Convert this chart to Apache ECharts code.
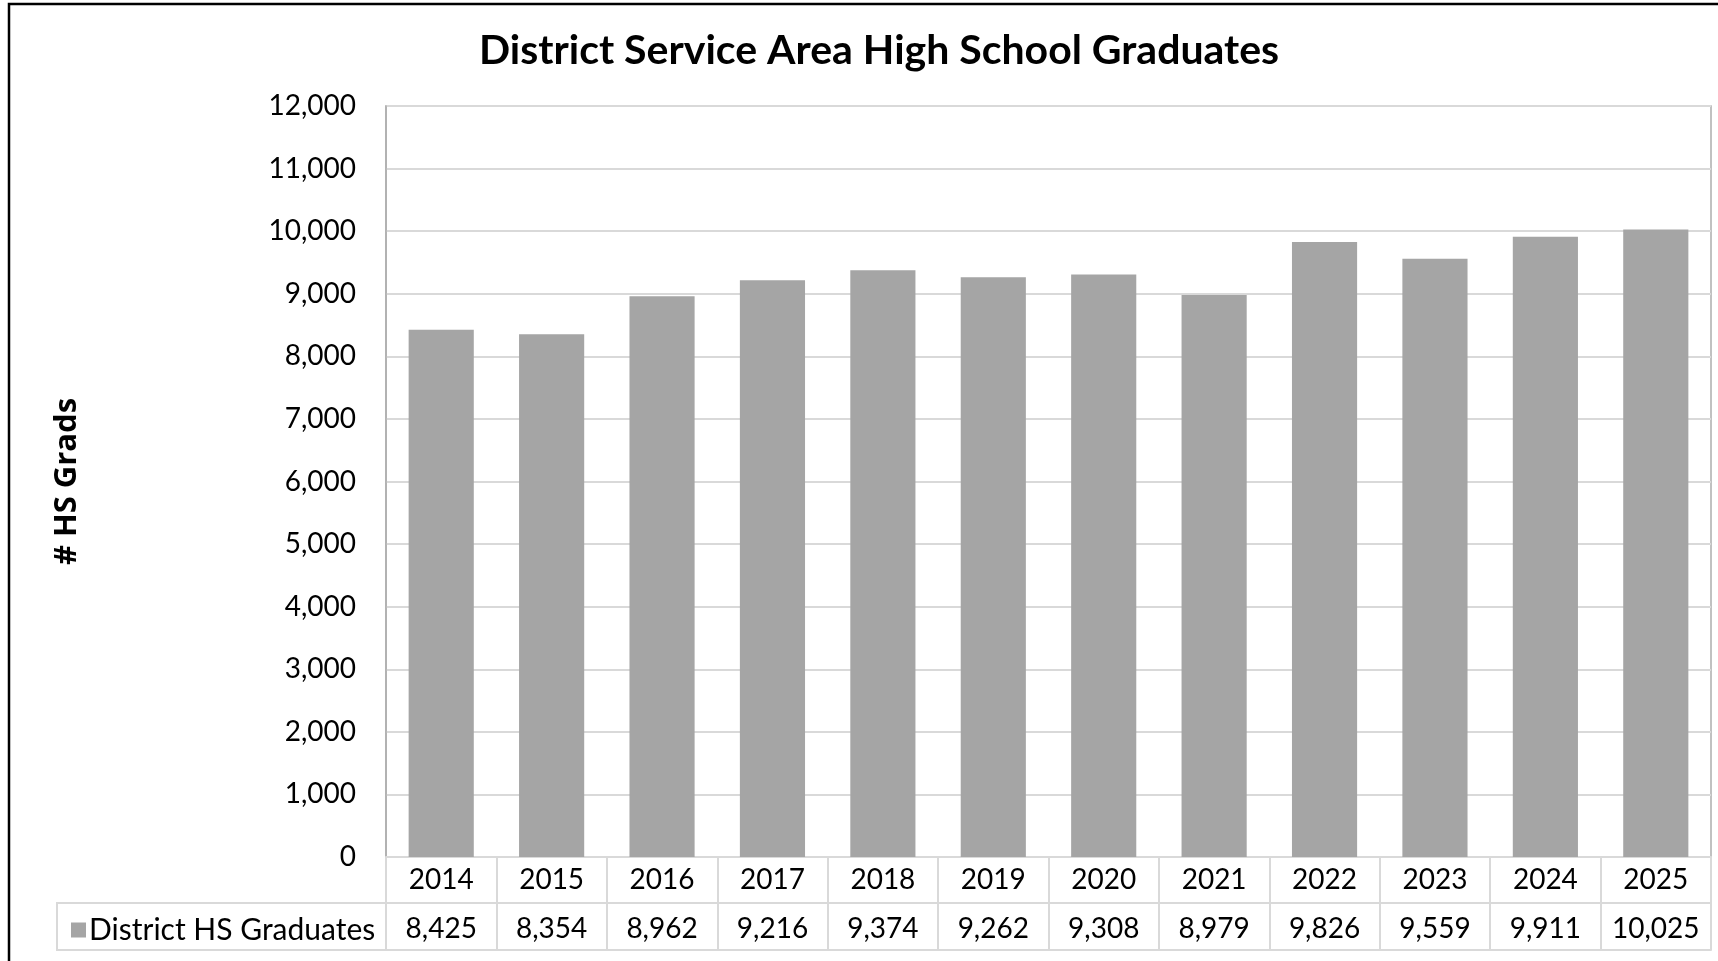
<!DOCTYPE html>
<html>
<head>
<meta charset="utf-8">
<script src="https://cdn.jsdelivr.net/npm/echarts@6/dist/echarts.min.js"></script>
<style>
html,body{margin:0;padding:0;background:#fff;}
#chart{width:1718px;height:961px;}
</style>
</head>
<body>
<div id="chart"></div>
<script>
const years = ['2014','2015','2016','2017','2018','2019','2020','2021','2022','2023','2024','2025'];
const grads = [8425, 8354, 8962, 9216, 9374, 9262, 9308, 8979, 9826, 9559, 9911, 10025];
const seriesName = 'District HS Graduates';
const titleText = 'District Service Area High School Graduates';
const yAxisName = '# HS Grads';

const FONT = 'Lato, "Open Sans", sans-serif';
const tableColor = '#D9D9D9';
const fmt = v => v.toLocaleString('en-US');

const chart = echarts.init(document.getElementById('chart'));
chart.setOption({
  backgroundColor: '#fff',
  animation: false,
  title: {
    text: titleText,
    left: 874, top: 25, textAlign: 'center',
    textStyle: {fontFamily: FONT, fontWeight: 'bold', fontSize: 41, color: '#000'}
  },
  legend: {
    data: [seriesName],
    left: 66, top: 910,
    icon: 'rect', itemWidth: 15, itemHeight: 15, itemGap: 6,
    textStyle: {fontFamily: FONT, fontSize: 30, color: '#000', padding: [0,0,0,-2]}
  },
  grid: {
    left: 386, right: 7, top: 106, bottom: 104,
    show: true, borderColor: '#ADADAD', borderWidth: 1.5
  },
  xAxis: [
    {
      type: 'category', data: years, position: 'bottom',
      axisLine: {show: true, lineStyle: {color: tableColor, width: 2}},
      axisTick: {show: true, interval: 0, length: 93, lineStyle: {color: tableColor, width: 2}},
      axisLabel: {fontFamily: FONT, fontSize: 28, color: '#000', margin: 9, interval: 0}
    },
    {
      type: 'category', data: years, position: 'bottom', offset: 46,
      axisLine: {show: true, lineStyle: {color: tableColor, width: 2}},
      axisTick: {show: false},
      axisLabel: {fontFamily: FONT, fontSize: 28, color: '#000', margin: 12, interval: 0,
        formatter: (v, i) => fmt(grads[i])}
    },
    {
      type: 'category', data: years, position: 'bottom', offset: 93,
      axisLine: {show: true, lineStyle: {color: tableColor, width: 2}},
      axisTick: {show: false},
      axisLabel: {show: false}
    }
  ],
  yAxis: {
    type: 'value', min: 0, max: 12000, interval: 1000,
    name: yAxisName, nameLocation: 'middle', nameGap: 303, nameRotate: 90,
    nameTextStyle: {fontFamily: '"Open Sans", sans-serif', fontWeight: 'bold', fontSize: 31, color: '#000'},
    axisLine: {show: true, lineStyle: {color: '#ADADAD', width: 1.5}},
    axisTick: {show: false},
    axisLabel: {fontFamily: FONT, fontSize: 28, color: '#000', margin: 30, formatter: v => fmt(v)},
    splitLine: {lineStyle: {color: tableColor, width: 2}}
  },
  series: [{
    name: seriesName, type: 'bar', data: grads, xAxisIndex: 0,
    barWidth: '59%',
    itemStyle: {color: '#A5A5A5'}
  }],
  graphic: [
    {type: 'rect', shape: {x: 57, y: 903, width: 329, height: 47},
     style: {fill: 'none', stroke: tableColor, lineWidth: 2}, z: 0},
    {type: 'rect', shape: {x: 9, y: 4, width: 1800, height: 1000},
     style: {fill: 'none', stroke: '#000', lineWidth: 2.5}, z: 100}
  ]
});
</script>
</body>
</html>
